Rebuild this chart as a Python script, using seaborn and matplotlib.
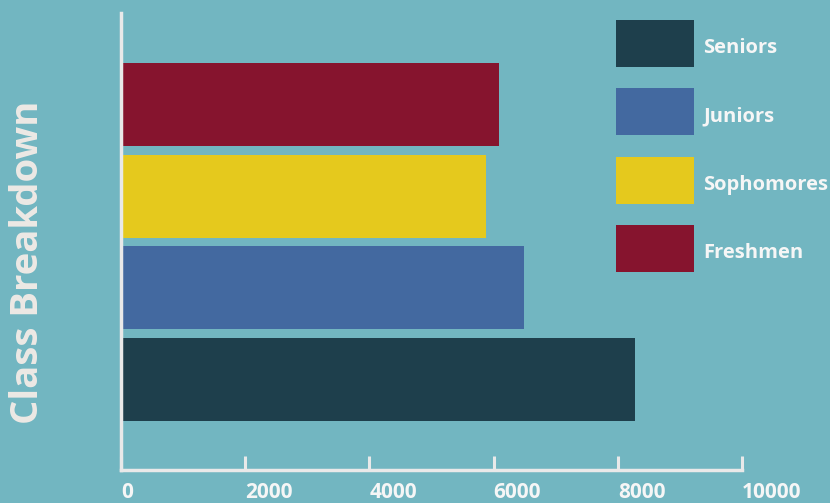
import matplotlib
matplotlib.use("Agg")
import matplotlib.pyplot as plt
import matplotlib.transforms as mtransforms
import seaborn as sns
import pandas as pd
from matplotlib.patches import Patch

classes = ["Freshmen", "Sophomores", "Juniors", "Seniors"]
students = [6090, 5880, 6490, 8280]
colors = ["#86142e", "#e5c91d", "#4369a0", "#1e3f4c"]
xticks = [0, 2000, 4000, 6000, 8000, 10000]
legend_order = ["Seniors", "Juniors", "Sophomores", "Freshmen"]

bg = "#72b6c1"
axis_col = "#e9e9e9"

sns.set_style("white")
plt.rcParams["font.family"] = ["Open Sans", "DejaVu Sans"]

df = pd.DataFrame({"cls": classes, "n": students})

W, H = 830, 503
fig = plt.figure(figsize=(W / 100, H / 100), dpi=100)
fig.patch.set_facecolor(bg)
ax = fig.add_axes([121 / W, 1 - 470 / H, (742 - 121) / W, (470 - 13) / H])
ax.set_facecolor(bg)

sns.barplot(data=df, x="n", y="cls", hue="cls", order=classes, hue_order=classes,
            palette=dict(zip(classes, colors)), width=0.905, saturation=1,
            linewidth=0, edgecolor="none", legend=False, ax=ax)

ax.set_xlim(0, 10000)
ax.set_ylim(3.99, -1.0)
ax.set_xticks(xticks)
ax.set_xticklabels([str(t) for t in xticks], fontsize=15, fontweight="bold",
                   color="#f6f6f6", ha="left")
ax.set_yticks([])
ax.set_xlabel("")
ax.set_ylabel("")
ax.tick_params(axis="x", bottom=True, direction="in", length=10, width=2.2,
               color=axis_col, pad=9)

for s in ["top", "right"]:
    ax.spines[s].set_visible(False)
for s in ["left", "bottom"]:
    ax.spines[s].set_color(axis_col)
    ax.spines[s].set_linewidth(2.5)

fig.text(28 / W, 1 - 262 / H, "Class Breakdown", rotation=90, ha="center", va="center",
         fontsize=27.5, fontweight="bold", color="#ede9e5")

handles = [Patch(facecolor=colors[classes.index(c)], edgecolor="none", label=c)
           for c in legend_order]
leg = fig.legend(handles=handles, loc="upper left", bbox_to_anchor=(616 / W, 1 - 20 / H),
                 frameon=False, borderpad=0, borderaxespad=0,
                 handlelength=3.88, handleheight=3.2, labelspacing=1.07, handletextpad=0.45,
                 prop={"family": "Open Sans", "weight": "bold", "size": 14.5})
for t in leg.get_texts():
    t.set_color("#f6f6f6")
    t.set_transform(t.get_transform() + mtransforms.Affine2D().translate(0, -4))

fig.savefig("out.png", dpi=100, facecolor=bg)
